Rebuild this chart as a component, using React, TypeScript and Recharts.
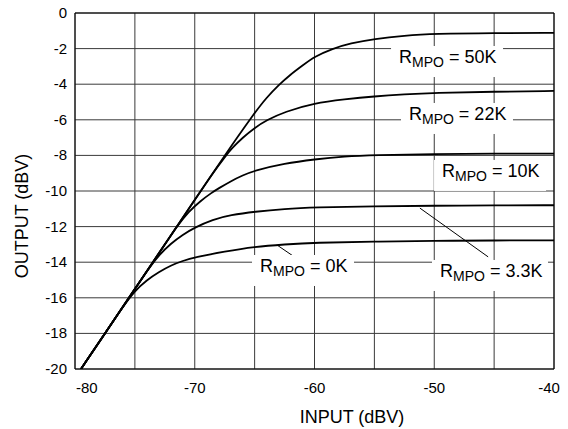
import { LineChart, Line, XAxis, YAxis, CartesianGrid, ReferenceLine, ReferenceDot, Label } from "recharts"

const FONT = "'Liberation Sans', Arial, Helvetica, sans-serif"

const xTicks = [-80, -75, -70, -65, -60, -55, -50, -45, -40]
const yTicks = [0, -2, -4, -6, -8, -10, -12, -14, -16, -18, -20]

// input (dBV) / output (dBV) for each R_MPO curve
const in0K = [-79.5, -77.5, -76, -75, -74, -73, -72, -71, -70, -67.5, -65, -62.5, -60, -55, -50, -45, -40]
const out0K = [-20, -18, -16.5, -15.6, -15.0, -14.55, -14.18, -13.92, -13.73, -13.4, -13.13, -13.0, -12.9, -12.84, -12.8, -12.78, -12.77]

const in3K3 = [-79.5, -77.5, -75, -74, -73, -72, -71, -70, -68.5, -67, -65, -62.5, -60, -55, -50, -45, -40]
const out3K3 = [-20, -18, -15.5, -14.5, -13.6, -12.95, -12.45, -12.05, -11.6, -11.35, -11.16, -11.0, -10.92, -10.85, -10.83, -10.81, -10.8]

const in10K = [-79.5, -77.5, -75, -72.5, -71.5, -70.5, -69.5, -68.6, -68, -67, -66, -65, -62.5, -60, -57.5, -55, -50, -45, -40]
const out10K = [-20, -18, -15.5, -13.0, -12.0, -11.15, -10.55, -10.1, -9.85, -9.45, -9.12, -8.85, -8.45, -8.22, -8.05, -7.98, -7.92, -7.9, -7.9]

const in22K = [-79.5, -77.5, -75, -72.5, -70, -68.5, -67.5, -66.9, -66, -65, -64, -62.5, -60, -57.5, -55, -52.5, -50, -45, -40]
const out22K = [-20, -18, -15.5, -13.0, -10.5, -9.0, -8.1, -7.6, -7.0, -6.45, -6.02, -5.55, -5.06, -4.85, -4.68, -4.57, -4.49, -4.42, -4.38]

const in50K = [-79.5, -77.5, -75, -72.5, -70, -67.5, -65, -64, -63, -62, -61, -60, -58.5, -57, -55, -52.5, -50, -45, -40]
const out50K = [-20, -18, -15.5, -13.0, -10.5, -8.0, -5.6, -4.75, -4.05, -3.45, -2.95, -2.45, -2.0, -1.7, -1.45, -1.27, -1.17, -1.12, -1.12]

const zip = (xs: number[], ys: number[]) => xs.map((x, i) => ({ input: x, output: ys[i] }))

const series = [
  { name: "0K", data: zip(in0K, out0K) },
  { name: "3.3K", data: zip(in3K3, out3K3) },
  { name: "10K", data: zip(in10K, out10K) },
  { name: "22K", data: zip(in22K, out22K) },
  { name: "50K", data: zip(in50K, out50K) },
]

// label anchors (text left, baseline) in data units
const labels = [
  { value: "50K", x: -52.94, y: -2.81, w: 101 },
  { value: "22K", x: -52.11, y: -6.01, w: 101 },
  { value: "10K", x: -49.35, y: -9.21, w: 101 },
  { value: "3.3K", x: -49.52, y: -14.83, w: 105 },
  { value: "0K", x: -64.55, y: -14.55, w: 91 },
]

const leaders = [
  [{ x: -63.14, y: -13.03 }, { x: -61.05, y: -13.99 }],
  [{ x: -51.2, y: -10.96 }, { x: -45.5, y: -13.7 }],
]

function XTick(props: any) {
  const { x, y, payload } = props
  const v = payload.value
  if (v % 10 !== 0) return null
  let dx = 0
  let anchor = "middle"
  if (v === -80) {
    dx = 1
    anchor = "start"
  }
  if (v === -40) dx = -5
  return (
    <text x={x + dx} y={y + 16} textAnchor={anchor} fontSize={15} fontFamily={FONT} fill="#000">
      {v}
    </text>
  )
}

function YTick(props: any) {
  const { x, y, payload } = props
  return (
    <text x={x} y={y + 5} textAnchor="end" fontSize={15} fontFamily={FONT} fill="#000">
      {payload.value}
    </text>
  )
}

function makeTag(value: string, w: number) {
  return function Tag(props: any) {
    const { cx, cy } = props
    return (
      <g>
        <rect x={cx - 8} y={cy - 17} width={w + 11} height={31} fill="#fff" />
        <text x={cx} y={cy} fontSize={18} fontFamily={FONT} fill="#000">
          <tspan>R</tspan>
          <tspan fontSize={14} dy={4}>MPO</tspan>
          <tspan dy={-4}>{" = " + value}</tspan>
        </text>
      </g>
    )
  }
}

export default function App() {
  return (
    <div style={{ position: "absolute", left: 0, top: 0, width: 568, height: 429, background: "#fff" }}>
      <LineChart width={568} height={429} margin={{ top: 13, right: 14, left: 20, bottom: 0 }}>
        <CartesianGrid stroke="#3a3a3a" strokeWidth={1} />
        <XAxis
          type="number"
          dataKey="input"
          domain={[-80, -40]}
          ticks={xTicks}
          tick={XTick}
          tickLine={false}
          axisLine={{ stroke: "#000" }}
          height={60}
          allowDataOverflow
        >
          <Label
            content={(p: any) => (
              <text x={p.viewBox.x + 277} y={p.viewBox.y + 54} textAnchor="middle" fontSize={18} fontFamily={FONT} fill="#000">
                INPUT (dBV)
              </text>
            )}
          />
        </XAxis>
        <YAxis
          type="number"
          domain={[-20, 0]}
          ticks={yTicks}
          tick={YTick}
          tickLine={false}
          axisLine={{ stroke: "#000" }}
          width={55}
          allowDataOverflow
        >
          <Label
            content={() => (
              <text x={28} y={216} transform="rotate(-90 28 216)" textAnchor="middle" fontSize={18} fontFamily={FONT} fill="#000">
                OUTPUT (dBV)
              </text>
            )}
          />
        </YAxis>
        <ReferenceLine y={0} stroke="#000" />
        <ReferenceLine x={-40} stroke="#000" />
        {series.map((s) => (
          <Line
            key={s.name}
            data={s.data}
            dataKey="output"
            type="basis"
            stroke="#000"
            strokeWidth={1.8}
            dot={false}
            isAnimationActive={false}
          />
        ))}
        {labels.map((l) => (
          <ReferenceDot key={l.value} x={l.x} y={l.y} r={0} shape={makeTag(l.value, l.w)} />
        ))}
        {leaders.map((seg, i) => (
          <ReferenceLine key={i} segment={seg} stroke="#000" strokeWidth={1} />
        ))}
      </LineChart>
    </div>
  )
}
